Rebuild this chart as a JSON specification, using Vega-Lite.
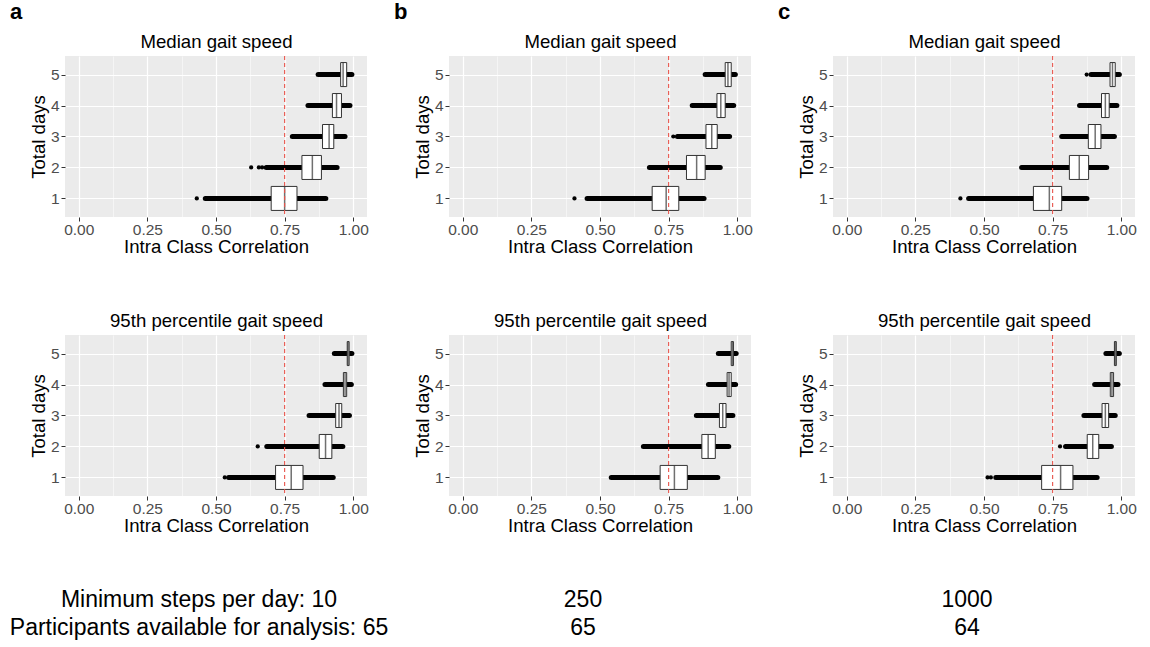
{
  "$schema": "https://vega.github.io/schema/vega-lite/v6.json",
  "background": "#FFFFFF",
  "padding": {"left": 9, "top": 1, "right": 5, "bottom": 5},
  "config": {
    "font": "Liberation Sans",
    "view": {"stroke": null},
    "scale": {"continuousPadding": 0},
    "axis": {"labelFont": "Liberation Sans", "labelFontSize": 15.5, "labelColor": "#4D4D4D", "titleFont": "Liberation Sans", "titleFontSize": 18.6, "titleFontWeight": "normal", "titleColor": "#000000", "tickColor": "#333333", "tickSize": 4, "domain": false, "gridColor": "#FFFFFF", "gridWidth": 1.2},
    "title": {"font": "Liberation Sans", "fontSize": 22, "fontWeight": "bold", "color": "#000000", "anchor": "start", "frame": "group", "dx": -55, "offset": 8, "baseline": "alphabetic"}
  },
  "datasets": {
    "boxes": [
      {"col": "a", "metric": "median", "day": 1, "lo": 0.461, "q1": 0.701, "med": 0.750, "q3": 0.795, "hi": 0.900},
      {"col": "a", "metric": "median", "day": 2, "lo": 0.683, "q1": 0.813, "med": 0.851, "q3": 0.884, "hi": 0.941},
      {"col": "a", "metric": "median", "day": 3, "lo": 0.778, "q1": 0.888, "med": 0.912, "q3": 0.929, "hi": 0.970},
      {"col": "a", "metric": "median", "day": 4, "lo": 0.835, "q1": 0.924, "med": 0.939, "q3": 0.957, "hi": 0.988},
      {"col": "a", "metric": "median", "day": 5, "lo": 0.872, "q1": 0.954, "med": 0.963, "q3": 0.976, "hi": 0.995},
      {"col": "a", "metric": "p95", "day": 1, "lo": 0.546, "q1": 0.717, "med": 0.774, "q3": 0.817, "hi": 0.927},
      {"col": "a", "metric": "p95", "day": 2, "lo": 0.685, "q1": 0.876, "med": 0.899, "q3": 0.922, "hi": 0.962},
      {"col": "a", "metric": "p95", "day": 3, "lo": 0.839, "q1": 0.936, "med": 0.948, "q3": 0.958, "hi": 0.986},
      {"col": "a", "metric": "p95", "day": 4, "lo": 0.897, "q1": 0.964, "med": 0.970, "q3": 0.976, "hi": 0.993},
      {"col": "a", "metric": "p95", "day": 5, "lo": 0.931, "q1": 0.978, "med": 0.981, "q3": 0.985, "hi": 0.995},
      {"col": "b", "metric": "median", "day": 1, "lo": 0.453, "q1": 0.690, "med": 0.741, "q3": 0.787, "hi": 0.879},
      {"col": "b", "metric": "median", "day": 2, "lo": 0.680, "q1": 0.815, "med": 0.852, "q3": 0.883, "hi": 0.938},
      {"col": "b", "metric": "median", "day": 3, "lo": 0.782, "q1": 0.886, "med": 0.907, "q3": 0.927, "hi": 0.972},
      {"col": "b", "metric": "median", "day": 4, "lo": 0.836, "q1": 0.926, "med": 0.940, "q3": 0.956, "hi": 0.987},
      {"col": "b", "metric": "median", "day": 5, "lo": 0.883, "q1": 0.956, "med": 0.966, "q3": 0.978, "hi": 0.993},
      {"col": "b", "metric": "p95", "day": 1, "lo": 0.541, "q1": 0.719, "med": 0.771, "q3": 0.818, "hi": 0.929},
      {"col": "b", "metric": "p95", "day": 2, "lo": 0.658, "q1": 0.871, "med": 0.894, "q3": 0.920, "hi": 0.969},
      {"col": "b", "metric": "p95", "day": 3, "lo": 0.851, "q1": 0.935, "med": 0.947, "q3": 0.959, "hi": 0.984},
      {"col": "b", "metric": "p95", "day": 4, "lo": 0.895, "q1": 0.963, "med": 0.970, "q3": 0.978, "hi": 0.994},
      {"col": "b", "metric": "p95", "day": 5, "lo": 0.931, "q1": 0.978, "med": 0.983, "q3": 0.986, "hi": 0.996},
      {"col": "c", "metric": "median", "day": 1, "lo": 0.444, "q1": 0.680, "med": 0.738, "q3": 0.783, "hi": 0.875},
      {"col": "c", "metric": "median", "day": 2, "lo": 0.637, "q1": 0.811, "med": 0.847, "q3": 0.881, "hi": 0.947},
      {"col": "c", "metric": "median", "day": 3, "lo": 0.783, "q1": 0.880, "med": 0.905, "q3": 0.926, "hi": 0.975},
      {"col": "c", "metric": "median", "day": 4, "lo": 0.848, "q1": 0.928, "med": 0.942, "q3": 0.956, "hi": 0.984},
      {"col": "c", "metric": "median", "day": 5, "lo": 0.890, "q1": 0.959, "med": 0.968, "q3": 0.978, "hi": 0.993},
      {"col": "c", "metric": "p95", "day": 1, "lo": 0.543, "q1": 0.710, "med": 0.779, "q3": 0.824, "hi": 0.912},
      {"col": "c", "metric": "p95", "day": 2, "lo": 0.797, "q1": 0.876, "med": 0.896, "q3": 0.918, "hi": 0.964},
      {"col": "c", "metric": "p95", "day": 3, "lo": 0.864, "q1": 0.930, "med": 0.942, "q3": 0.954, "hi": 0.978},
      {"col": "c", "metric": "p95", "day": 4, "lo": 0.903, "q1": 0.960, "med": 0.966, "q3": 0.972, "hi": 0.988},
      {"col": "c", "metric": "p95", "day": 5, "lo": 0.944, "q1": 0.975, "med": 0.978, "q3": 0.982, "hi": 0.993}
    ],
    "outliers": [
      {"col": "a", "metric": "median", "day": 1, "value": 0.430},
      {"col": "a", "metric": "median", "day": 2, "value": 0.628},
      {"col": "a", "metric": "median", "day": 2, "value": 0.656},
      {"col": "a", "metric": "median", "day": 2, "value": 0.668},
      {"col": "a", "metric": "p95", "day": 1, "value": 0.532},
      {"col": "a", "metric": "p95", "day": 2, "value": 0.652},
      {"col": "b", "metric": "median", "day": 1, "value": 0.407},
      {"col": "b", "metric": "median", "day": 3, "value": 0.767},
      {"col": "c", "metric": "median", "day": 1, "value": 0.414},
      {"col": "c", "metric": "median", "day": 5, "value": 0.874},
      {"col": "c", "metric": "p95", "day": 1, "value": 0.513},
      {"col": "c", "metric": "p95", "day": 1, "value": 0.525},
      {"col": "c", "metric": "p95", "day": 2, "value": 0.777}
    ],
    "threshold": [{"icc": 0.75}],
    "notes": [
      {"col": "a", "line": 1, "label": "Minimum steps per day: 10"},
      {"col": "a", "line": 2, "label": "Participants available for analysis: 65"},
      {"col": "b", "line": 1, "label": "250"},
      {"col": "b", "line": 2, "label": "65"},
      {"col": "c", "line": 1, "label": "1000"},
      {"col": "c", "line": 2, "label": "64"}
    ]
  },
  "bounds": "flush",
  "columns": 3,
  "spacing": {"row": 118, "column": 82},
  "concat": [
    {
      "title": {"text": "a"},
      "width": 302, "height": 161,
      "view": {"fill": "#EBEBEB", "stroke": null},
      "resolve": {"axis": {"x": "independent"}},
      "layer": [
        {"data": {"name": "boxes"}, "transform": [{"filter": {"and": [{"field": "col", "equal": "a"}, {"field": "metric", "equal": "median"}]}}],
         "mark": {"type": "rule", "strokeWidth": 5, "strokeCap": "round", "color": "#000000"},
         "encoding": {
           "x": {"field": "lo", "type": "quantitative", "scale": {"domain": [-0.05, 1.05], "nice": false, "zero": false, "padding": 0}, "axis": {"title": "Intra Class Correlation", "values": [0, 0.25, 0.5, 0.75, 1], "format": ".2f", "labelPadding": 1, "titlePadding": 0}},
           "x2": {"field": "hi"},
           "y": {"field": "day", "type": "quantitative", "scale": {"domain": [0.4, 5.6], "nice": false, "zero": false, "padding": 0}, "axis": {"title": "Total days", "values": [1, 2, 3, 4, 5], "format": "d", "labelPadding": 2, "titlePadding": 2}}}},
        {"data": {"name": "outliers"}, "transform": [{"filter": {"and": [{"field": "col", "equal": "a"}, {"field": "metric", "equal": "median"}]}}],
         "mark": {"type": "point", "filled": true, "size": 18, "color": "#000000", "opacity": 1},
         "encoding": {"x": {"field": "value", "type": "quantitative", "axis": null}, "y": {"field": "day", "type": "quantitative"}}},
        {"data": {"name": "boxes"}, "transform": [{"filter": {"and": [{"field": "col", "equal": "a"}, {"field": "metric", "equal": "median"}]}}],
         "mark": {"type": "bar", "size": 24, "fill": "#FFFFFF", "stroke": "#333333", "strokeWidth": 1},
         "encoding": {"x": {"field": "q1", "type": "quantitative", "axis": null}, "x2": {"field": "q3"}, "y": {"field": "day", "type": "quantitative"}}},
        {"data": {"name": "boxes"}, "transform": [{"filter": {"and": [{"field": "col", "equal": "a"}, {"field": "metric", "equal": "median"}]}}],
         "mark": {"type": "tick", "orient": "vertical", "size": 24, "thickness": 1.5, "color": "#333333"},
         "encoding": {"x": {"field": "med", "type": "quantitative", "axis": null}, "y": {"field": "day", "type": "quantitative"}}},
        {"data": {"name": "threshold"},
         "mark": {"type": "rule", "color": "#E8524A", "strokeWidth": 1.1, "strokeDash": [4, 3]},
         "encoding": {"x": {"field": "icc", "type": "quantitative", "axis": {"orient": "top", "values": [0.125, 0.375, 0.625, 0.875], "labels": false, "ticks": false, "domain": false, "title": "Median gait speed", "titlePadding": 5, "grid": true, "gridWidth": 0.5, "gridColor": "#FFFFFF"}}}}
      ]
    },
    {
      "title": {"text": "b"},
      "width": 302, "height": 161,
      "view": {"fill": "#EBEBEB", "stroke": null},
      "resolve": {"axis": {"x": "independent"}},
      "layer": [
        {"data": {"name": "boxes"}, "transform": [{"filter": {"and": [{"field": "col", "equal": "b"}, {"field": "metric", "equal": "median"}]}}],
         "mark": {"type": "rule", "strokeWidth": 5, "strokeCap": "round", "color": "#000000"},
         "encoding": {
           "x": {"field": "lo", "type": "quantitative", "scale": {"domain": [-0.05, 1.05], "nice": false, "zero": false, "padding": 0}, "axis": {"title": "Intra Class Correlation", "values": [0, 0.25, 0.5, 0.75, 1], "format": ".2f", "labelPadding": 1, "titlePadding": 0}},
           "x2": {"field": "hi"},
           "y": {"field": "day", "type": "quantitative", "scale": {"domain": [0.4, 5.6], "nice": false, "zero": false, "padding": 0}, "axis": {"title": "Total days", "values": [1, 2, 3, 4, 5], "format": "d", "labelPadding": 2, "titlePadding": 2}}}},
        {"data": {"name": "outliers"}, "transform": [{"filter": {"and": [{"field": "col", "equal": "b"}, {"field": "metric", "equal": "median"}]}}],
         "mark": {"type": "point", "filled": true, "size": 18, "color": "#000000", "opacity": 1},
         "encoding": {"x": {"field": "value", "type": "quantitative", "axis": null}, "y": {"field": "day", "type": "quantitative"}}},
        {"data": {"name": "boxes"}, "transform": [{"filter": {"and": [{"field": "col", "equal": "b"}, {"field": "metric", "equal": "median"}]}}],
         "mark": {"type": "bar", "size": 24, "fill": "#FFFFFF", "stroke": "#333333", "strokeWidth": 1},
         "encoding": {"x": {"field": "q1", "type": "quantitative", "axis": null}, "x2": {"field": "q3"}, "y": {"field": "day", "type": "quantitative"}}},
        {"data": {"name": "boxes"}, "transform": [{"filter": {"and": [{"field": "col", "equal": "b"}, {"field": "metric", "equal": "median"}]}}],
         "mark": {"type": "tick", "orient": "vertical", "size": 24, "thickness": 1.5, "color": "#333333"},
         "encoding": {"x": {"field": "med", "type": "quantitative", "axis": null}, "y": {"field": "day", "type": "quantitative"}}},
        {"data": {"name": "threshold"},
         "mark": {"type": "rule", "color": "#E8524A", "strokeWidth": 1.1, "strokeDash": [4, 3]},
         "encoding": {"x": {"field": "icc", "type": "quantitative", "axis": {"orient": "top", "values": [0.125, 0.375, 0.625, 0.875], "labels": false, "ticks": false, "domain": false, "title": "Median gait speed", "titlePadding": 5, "grid": true, "gridWidth": 0.5, "gridColor": "#FFFFFF"}}}}
      ]
    },
    {
      "title": {"text": "c"},
      "width": 302, "height": 161,
      "view": {"fill": "#EBEBEB", "stroke": null},
      "resolve": {"axis": {"x": "independent"}},
      "layer": [
        {"data": {"name": "boxes"}, "transform": [{"filter": {"and": [{"field": "col", "equal": "c"}, {"field": "metric", "equal": "median"}]}}],
         "mark": {"type": "rule", "strokeWidth": 5, "strokeCap": "round", "color": "#000000"},
         "encoding": {
           "x": {"field": "lo", "type": "quantitative", "scale": {"domain": [-0.05, 1.05], "nice": false, "zero": false, "padding": 0}, "axis": {"title": "Intra Class Correlation", "values": [0, 0.25, 0.5, 0.75, 1], "format": ".2f", "labelPadding": 1, "titlePadding": 0}},
           "x2": {"field": "hi"},
           "y": {"field": "day", "type": "quantitative", "scale": {"domain": [0.4, 5.6], "nice": false, "zero": false, "padding": 0}, "axis": {"title": "Total days", "values": [1, 2, 3, 4, 5], "format": "d", "labelPadding": 2, "titlePadding": 2}}}},
        {"data": {"name": "outliers"}, "transform": [{"filter": {"and": [{"field": "col", "equal": "c"}, {"field": "metric", "equal": "median"}]}}],
         "mark": {"type": "point", "filled": true, "size": 18, "color": "#000000", "opacity": 1},
         "encoding": {"x": {"field": "value", "type": "quantitative", "axis": null}, "y": {"field": "day", "type": "quantitative"}}},
        {"data": {"name": "boxes"}, "transform": [{"filter": {"and": [{"field": "col", "equal": "c"}, {"field": "metric", "equal": "median"}]}}],
         "mark": {"type": "bar", "size": 24, "fill": "#FFFFFF", "stroke": "#333333", "strokeWidth": 1},
         "encoding": {"x": {"field": "q1", "type": "quantitative", "axis": null}, "x2": {"field": "q3"}, "y": {"field": "day", "type": "quantitative"}}},
        {"data": {"name": "boxes"}, "transform": [{"filter": {"and": [{"field": "col", "equal": "c"}, {"field": "metric", "equal": "median"}]}}],
         "mark": {"type": "tick", "orient": "vertical", "size": 24, "thickness": 1.5, "color": "#333333"},
         "encoding": {"x": {"field": "med", "type": "quantitative", "axis": null}, "y": {"field": "day", "type": "quantitative"}}},
        {"data": {"name": "threshold"},
         "mark": {"type": "rule", "color": "#E8524A", "strokeWidth": 1.1, "strokeDash": [4, 3]},
         "encoding": {"x": {"field": "icc", "type": "quantitative", "axis": {"orient": "top", "values": [0.125, 0.375, 0.625, 0.875], "labels": false, "ticks": false, "domain": false, "title": "Median gait speed", "titlePadding": 5, "grid": true, "gridWidth": 0.5, "gridColor": "#FFFFFF"}}}}
      ]
    },
    {
      "width": 302, "height": 161,
      "view": {"fill": "#EBEBEB", "stroke": null},
      "resolve": {"axis": {"x": "independent"}},
      "layer": [
        {"data": {"name": "boxes"}, "transform": [{"filter": {"and": [{"field": "col", "equal": "a"}, {"field": "metric", "equal": "p95"}]}}],
         "mark": {"type": "rule", "strokeWidth": 5, "strokeCap": "round", "color": "#000000"},
         "encoding": {
           "x": {"field": "lo", "type": "quantitative", "scale": {"domain": [-0.05, 1.05], "nice": false, "zero": false, "padding": 0}, "axis": {"title": "Intra Class Correlation", "values": [0, 0.25, 0.5, 0.75, 1], "format": ".2f", "labelPadding": 1, "titlePadding": 0}},
           "x2": {"field": "hi"},
           "y": {"field": "day", "type": "quantitative", "scale": {"domain": [0.4, 5.6], "nice": false, "zero": false, "padding": 0}, "axis": {"title": "Total days", "values": [1, 2, 3, 4, 5], "format": "d", "labelPadding": 2, "titlePadding": 2}}}},
        {"data": {"name": "outliers"}, "transform": [{"filter": {"and": [{"field": "col", "equal": "a"}, {"field": "metric", "equal": "p95"}]}}],
         "mark": {"type": "point", "filled": true, "size": 18, "color": "#000000", "opacity": 1},
         "encoding": {"x": {"field": "value", "type": "quantitative", "axis": null}, "y": {"field": "day", "type": "quantitative"}}},
        {"data": {"name": "boxes"}, "transform": [{"filter": {"and": [{"field": "col", "equal": "a"}, {"field": "metric", "equal": "p95"}]}}],
         "mark": {"type": "bar", "size": 24, "fill": "#FFFFFF", "stroke": "#333333", "strokeWidth": 1},
         "encoding": {"x": {"field": "q1", "type": "quantitative", "axis": null}, "x2": {"field": "q3"}, "y": {"field": "day", "type": "quantitative"}}},
        {"data": {"name": "boxes"}, "transform": [{"filter": {"and": [{"field": "col", "equal": "a"}, {"field": "metric", "equal": "p95"}]}}],
         "mark": {"type": "tick", "orient": "vertical", "size": 24, "thickness": 1.5, "color": "#333333"},
         "encoding": {"x": {"field": "med", "type": "quantitative", "axis": null}, "y": {"field": "day", "type": "quantitative"}}},
        {"data": {"name": "threshold"},
         "mark": {"type": "rule", "color": "#E8524A", "strokeWidth": 1.1, "strokeDash": [4, 3]},
         "encoding": {"x": {"field": "icc", "type": "quantitative", "axis": {"orient": "top", "values": [0.125, 0.375, 0.625, 0.875], "labels": false, "ticks": false, "domain": false, "title": "95th percentile gait speed", "titlePadding": 5, "grid": true, "gridWidth": 0.5, "gridColor": "#FFFFFF"}}}}
      ]
    },
    {
      "width": 302, "height": 161,
      "view": {"fill": "#EBEBEB", "stroke": null},
      "resolve": {"axis": {"x": "independent"}},
      "layer": [
        {"data": {"name": "boxes"}, "transform": [{"filter": {"and": [{"field": "col", "equal": "b"}, {"field": "metric", "equal": "p95"}]}}],
         "mark": {"type": "rule", "strokeWidth": 5, "strokeCap": "round", "color": "#000000"},
         "encoding": {
           "x": {"field": "lo", "type": "quantitative", "scale": {"domain": [-0.05, 1.05], "nice": false, "zero": false, "padding": 0}, "axis": {"title": "Intra Class Correlation", "values": [0, 0.25, 0.5, 0.75, 1], "format": ".2f", "labelPadding": 1, "titlePadding": 0}},
           "x2": {"field": "hi"},
           "y": {"field": "day", "type": "quantitative", "scale": {"domain": [0.4, 5.6], "nice": false, "zero": false, "padding": 0}, "axis": {"title": "Total days", "values": [1, 2, 3, 4, 5], "format": "d", "labelPadding": 2, "titlePadding": 2}}}},
        {"data": {"name": "outliers"}, "transform": [{"filter": {"and": [{"field": "col", "equal": "b"}, {"field": "metric", "equal": "p95"}]}}],
         "mark": {"type": "point", "filled": true, "size": 18, "color": "#000000", "opacity": 1},
         "encoding": {"x": {"field": "value", "type": "quantitative", "axis": null}, "y": {"field": "day", "type": "quantitative"}}},
        {"data": {"name": "boxes"}, "transform": [{"filter": {"and": [{"field": "col", "equal": "b"}, {"field": "metric", "equal": "p95"}]}}],
         "mark": {"type": "bar", "size": 24, "fill": "#FFFFFF", "stroke": "#333333", "strokeWidth": 1},
         "encoding": {"x": {"field": "q1", "type": "quantitative", "axis": null}, "x2": {"field": "q3"}, "y": {"field": "day", "type": "quantitative"}}},
        {"data": {"name": "boxes"}, "transform": [{"filter": {"and": [{"field": "col", "equal": "b"}, {"field": "metric", "equal": "p95"}]}}],
         "mark": {"type": "tick", "orient": "vertical", "size": 24, "thickness": 1.5, "color": "#333333"},
         "encoding": {"x": {"field": "med", "type": "quantitative", "axis": null}, "y": {"field": "day", "type": "quantitative"}}},
        {"data": {"name": "threshold"},
         "mark": {"type": "rule", "color": "#E8524A", "strokeWidth": 1.1, "strokeDash": [4, 3]},
         "encoding": {"x": {"field": "icc", "type": "quantitative", "axis": {"orient": "top", "values": [0.125, 0.375, 0.625, 0.875], "labels": false, "ticks": false, "domain": false, "title": "95th percentile gait speed", "titlePadding": 5, "grid": true, "gridWidth": 0.5, "gridColor": "#FFFFFF"}}}}
      ]
    },
    {
      "width": 302, "height": 161,
      "view": {"fill": "#EBEBEB", "stroke": null},
      "resolve": {"axis": {"x": "independent"}},
      "layer": [
        {"data": {"name": "boxes"}, "transform": [{"filter": {"and": [{"field": "col", "equal": "c"}, {"field": "metric", "equal": "p95"}]}}],
         "mark": {"type": "rule", "strokeWidth": 5, "strokeCap": "round", "color": "#000000"},
         "encoding": {
           "x": {"field": "lo", "type": "quantitative", "scale": {"domain": [-0.05, 1.05], "nice": false, "zero": false, "padding": 0}, "axis": {"title": "Intra Class Correlation", "values": [0, 0.25, 0.5, 0.75, 1], "format": ".2f", "labelPadding": 1, "titlePadding": 0}},
           "x2": {"field": "hi"},
           "y": {"field": "day", "type": "quantitative", "scale": {"domain": [0.4, 5.6], "nice": false, "zero": false, "padding": 0}, "axis": {"title": "Total days", "values": [1, 2, 3, 4, 5], "format": "d", "labelPadding": 2, "titlePadding": 2}}}},
        {"data": {"name": "outliers"}, "transform": [{"filter": {"and": [{"field": "col", "equal": "c"}, {"field": "metric", "equal": "p95"}]}}],
         "mark": {"type": "point", "filled": true, "size": 18, "color": "#000000", "opacity": 1},
         "encoding": {"x": {"field": "value", "type": "quantitative", "axis": null}, "y": {"field": "day", "type": "quantitative"}}},
        {"data": {"name": "boxes"}, "transform": [{"filter": {"and": [{"field": "col", "equal": "c"}, {"field": "metric", "equal": "p95"}]}}],
         "mark": {"type": "bar", "size": 24, "fill": "#FFFFFF", "stroke": "#333333", "strokeWidth": 1},
         "encoding": {"x": {"field": "q1", "type": "quantitative", "axis": null}, "x2": {"field": "q3"}, "y": {"field": "day", "type": "quantitative"}}},
        {"data": {"name": "boxes"}, "transform": [{"filter": {"and": [{"field": "col", "equal": "c"}, {"field": "metric", "equal": "p95"}]}}],
         "mark": {"type": "tick", "orient": "vertical", "size": 24, "thickness": 1.5, "color": "#333333"},
         "encoding": {"x": {"field": "med", "type": "quantitative", "axis": null}, "y": {"field": "day", "type": "quantitative"}}},
        {"data": {"name": "threshold"},
         "mark": {"type": "rule", "color": "#E8524A", "strokeWidth": 1.1, "strokeDash": [4, 3]},
         "encoding": {"x": {"field": "icc", "type": "quantitative", "axis": {"orient": "top", "values": [0.125, 0.375, 0.625, 0.875], "labels": false, "ticks": false, "domain": false, "title": "95th percentile gait speed", "titlePadding": 5, "grid": true, "gridWidth": 0.5, "gridColor": "#FFFFFF"}}}}
      ]
    },
    {
      "width": 302, "height": 56,
      "view": {"stroke": null},
      "data": {"name": "notes"},
      "transform": [{"filter": {"field": "col", "equal": "a"}}],
      "mark": {"type": "text", "font": "Liberation Sans", "fontSize": 23, "dx": -17, "dy": -28, "baseline": "middle", "color": "#000000"},
      "encoding": {"y": {"field": "line", "type": "ordinal", "axis": null}, "text": {"field": "label"}}
    },
    {
      "width": 302, "height": 56,
      "view": {"stroke": null},
      "data": {"name": "notes"},
      "transform": [{"filter": {"field": "col", "equal": "b"}}],
      "mark": {"type": "text", "font": "Liberation Sans", "fontSize": 23, "dx": -17, "dy": -28, "baseline": "middle", "color": "#000000"},
      "encoding": {"y": {"field": "line", "type": "ordinal", "axis": null}, "text": {"field": "label"}}
    },
    {
      "width": 302, "height": 56,
      "view": {"stroke": null},
      "data": {"name": "notes"},
      "transform": [{"filter": {"field": "col", "equal": "c"}}],
      "mark": {"type": "text", "font": "Liberation Sans", "fontSize": 23, "dx": -17, "dy": -28, "baseline": "middle", "color": "#000000"},
      "encoding": {"y": {"field": "line", "type": "ordinal", "axis": null}, "text": {"field": "label"}}
    }
  ]
}
